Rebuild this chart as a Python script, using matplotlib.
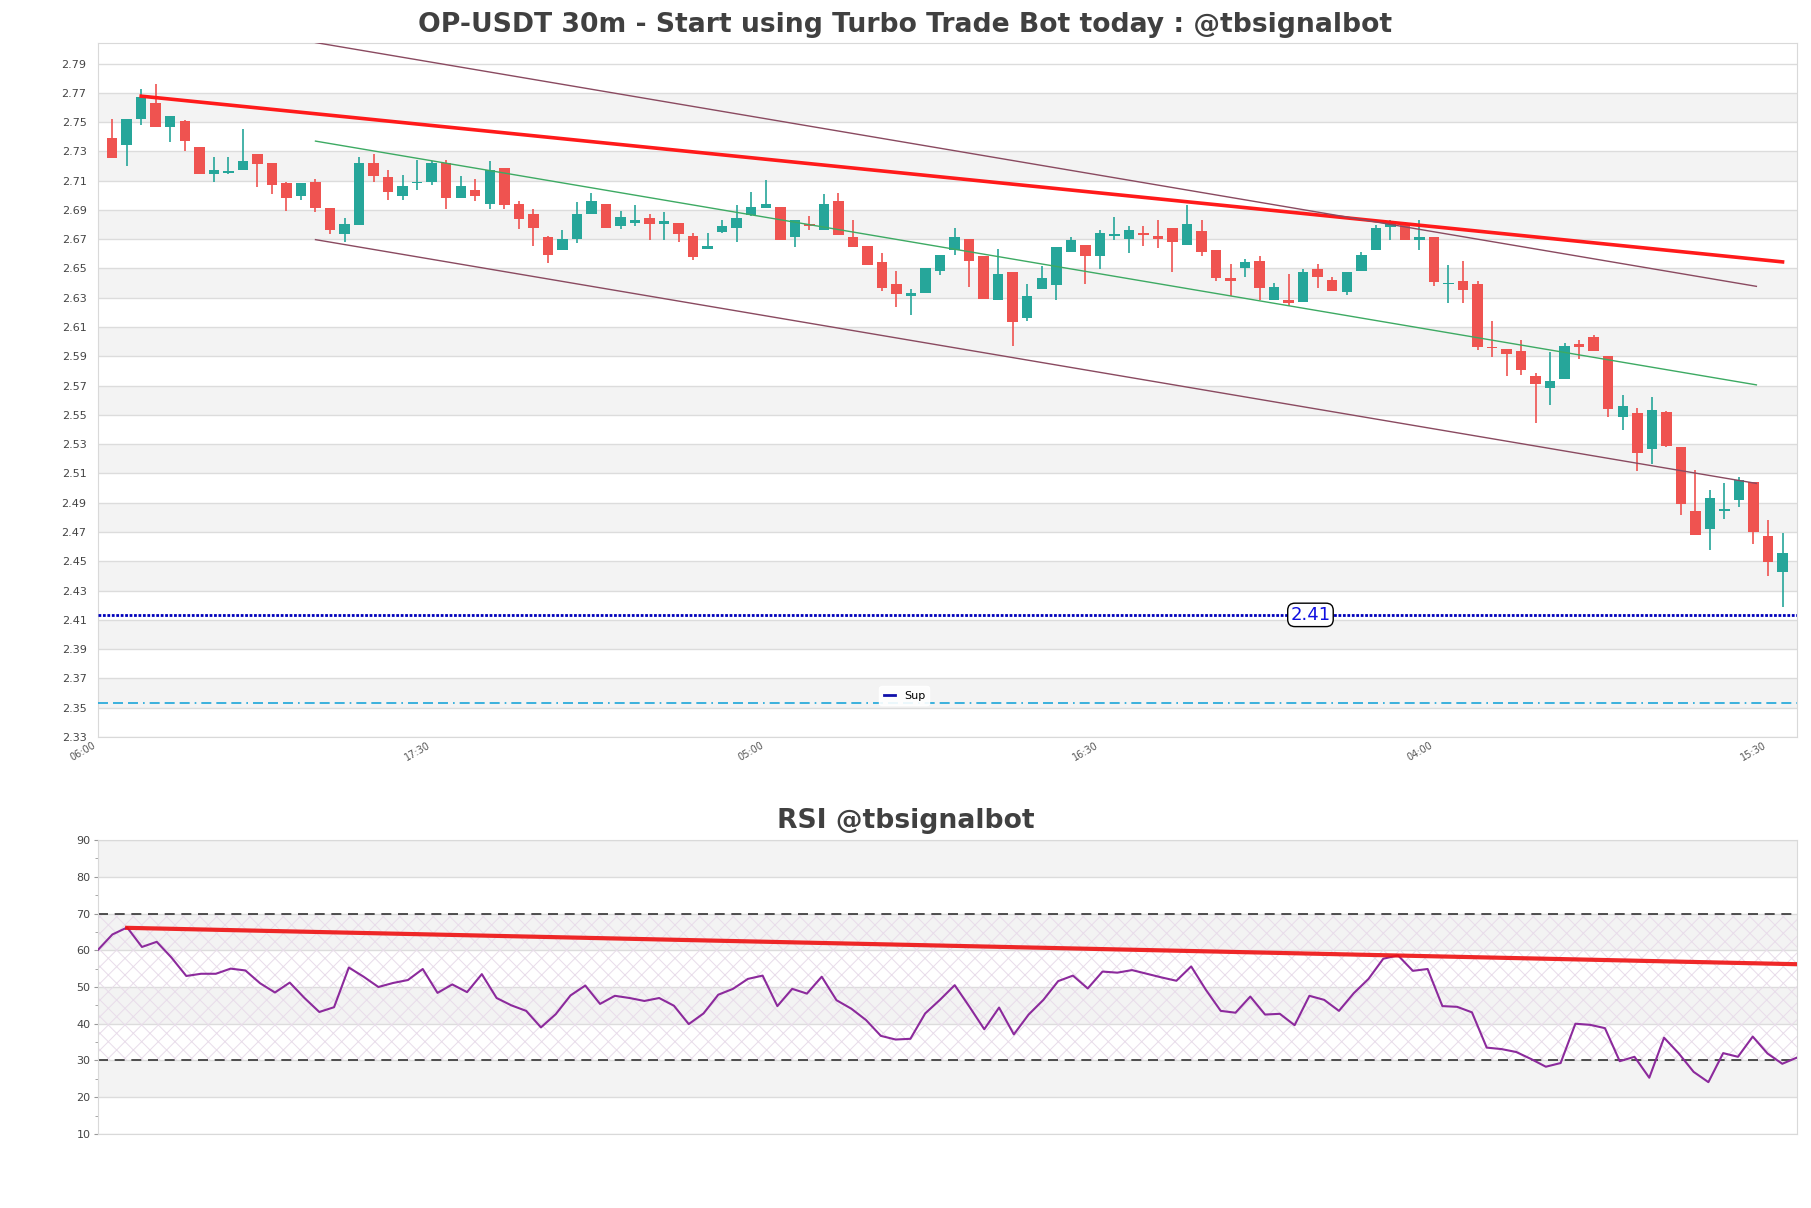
import numpy as np
import matplotlib.pyplot as plt
from matplotlib.lines import Line2D

plt.rcParams['hatch.linewidth'] = 0.7

# ---- candle data (30m OP-USDT) ----
opens = [2.7394, 2.7342, 2.7520, 2.7627, 2.7465, 2.7504, 2.7333, 2.7144, 2.7151, 2.7171,
         2.7285, 2.7223, 2.7087, 2.6993, 2.7094, 2.6916, 2.6738, 2.6800, 2.7223, 2.7128,
         2.6993, 2.7082, 2.7089, 2.7223, 2.6980, 2.7037, 2.6939, 2.7189, 2.6943, 2.6873,
         2.6715, 2.6627, 2.6702, 2.6870, 2.6943, 2.6789, 2.6811, 2.6845, 2.6802, 2.6811,
         2.6725, 2.6631, 2.6752, 2.6779, 2.6868, 2.6916, 2.6923, 2.6713, 2.6807, 2.6761,
         2.6964, 2.6715, 2.6654, 2.6547, 2.6394, 2.6310, 2.6331, 2.6481, 2.6629, 2.6704,
         2.6588, 2.6283, 2.6479, 2.6160, 2.6362, 2.6390, 2.6611, 2.6663, 2.6583, 2.6720,
         2.6702, 2.6743, 2.6722, 2.6777, 2.6659, 2.6759, 2.6629, 2.6435, 2.6501, 2.6554,
         2.6283, 2.6287, 2.6269, 2.6499, 2.6424, 2.6342, 2.6481, 2.6624, 2.6782, 2.6807,
         2.6693, 2.6718, 2.6394, 2.6417, 2.6397, 2.5966, 2.5950, 2.5939, 2.5767, 2.5681,
         2.5747, 2.5984, 2.6032, 2.5905, 2.5489, 2.5515, 2.5269, 2.5517, 2.5282, 2.4843,
         2.4722, 2.4843, 2.4920, 2.5041, 2.4672, 2.4430]
highs = [2.7524, 2.7524, 2.7729, 2.7763, 2.7542, 2.7515, 2.7333, 2.7264, 2.7264, 2.7456,
         2.7285, 2.7223, 2.7091, 2.7087, 2.7112, 2.6916, 2.6848, 2.7264, 2.7285, 2.7176,
         2.7137, 2.7242, 2.7237, 2.7242, 2.7130, 2.7112, 2.7237, 2.7189, 2.6961, 2.6907,
         2.6725, 2.6766, 2.6957, 2.7018, 2.6943, 2.6895, 2.6936, 2.6873, 2.6889, 2.6811,
         2.6743, 2.6743, 2.6832, 2.6936, 2.7021, 2.7105, 2.6923, 2.6834, 2.6857, 2.7010,
         2.7015, 2.6834, 2.6654, 2.6608, 2.6481, 2.6360, 2.6506, 2.6595, 2.6777, 2.6704,
         2.6588, 2.6636, 2.6479, 2.6394, 2.6515, 2.6650, 2.6715, 2.6663, 2.6766, 2.6852,
         2.6793, 2.6788, 2.6834, 2.6777, 2.6936, 2.6834, 2.6629, 2.6531, 2.6567, 2.6588,
         2.6401, 2.6460, 2.6497, 2.6531, 2.6442, 2.6479, 2.6613, 2.6797, 2.6829, 2.6816,
         2.6834, 2.6718, 2.6524, 2.6554, 2.6413, 2.6144, 2.5950, 2.6014, 2.5786, 2.5927,
         2.5991, 2.6014, 2.6048, 2.5905, 2.5638, 2.5546, 2.5622, 2.5528, 2.5282, 2.5125,
         2.4988, 2.5034, 2.5075, 2.5041, 2.4783, 2.4695]
lows = [2.7253, 2.7198, 2.7479, 2.7465, 2.7362, 2.7299, 2.7144, 2.7089, 2.7144, 2.7171,
        2.7055, 2.7010, 2.6891, 2.6971, 2.6886, 2.6734, 2.6679, 2.6800, 2.7089, 2.6971,
        2.6971, 2.7039, 2.7069, 2.6909, 2.6980, 2.6959, 2.6909, 2.6909, 2.6772, 2.6652,
        2.6540, 2.6627, 2.6672, 2.6870, 2.6775, 2.6772, 2.6789, 2.6697, 2.6693, 2.6679,
        2.6561, 2.6631, 2.6743, 2.6679, 2.6857, 2.6911, 2.6697, 2.6649, 2.6761, 2.6761,
        2.6731, 2.6649, 2.6522, 2.6346, 2.6237, 2.6182, 2.6331, 2.6458, 2.6590, 2.6374,
        2.6292, 2.6283, 2.5968, 2.6142, 2.6362, 2.6283, 2.6611, 2.6392, 2.6497, 2.6693,
        2.6606, 2.6652, 2.6640, 2.6474, 2.6659, 2.6583, 2.6413, 2.6310, 2.6440, 2.6287,
        2.6283, 2.6244, 2.6269, 2.6365, 2.6346, 2.6321, 2.6481, 2.6624, 2.6697, 2.6697,
        2.6624, 2.6383, 2.6262, 2.6262, 2.5941, 2.5893, 2.5763, 2.5775, 2.5448, 2.5569,
        2.5747, 2.5884, 2.5934, 2.5489, 2.5398, 2.5114, 2.5166, 2.5280, 2.4813, 2.4683,
        2.4578, 2.4790, 2.4868, 2.4619, 2.4401, 2.4191]
closes = [2.7253, 2.7524, 2.7674, 2.7465, 2.7542, 2.7369, 2.7144, 2.7173, 2.7167, 2.7237,
          2.7212, 2.7069, 2.6980, 2.7087, 2.6911, 2.6761, 2.6807, 2.7223, 2.7130, 2.7021,
          2.7066, 2.7094, 2.7219, 2.6980, 2.7066, 2.6993, 2.7173, 2.6932, 2.6841, 2.6775,
          2.6590, 2.6702, 2.6873, 2.6961, 2.6775, 2.6852, 2.6834, 2.6802, 2.6827, 2.6738,
          2.6581, 2.6654, 2.6791, 2.6845, 2.6923, 2.6941, 2.6697, 2.6834, 2.6789, 2.6943,
          2.6731, 2.6649, 2.6522, 2.6369, 2.6324, 2.6333, 2.6506, 2.6595, 2.6718, 2.6549,
          2.6292, 2.6465, 2.6137, 2.6315, 2.6437, 2.6650, 2.6697, 2.6583, 2.6743, 2.6736,
          2.6766, 2.6731, 2.6702, 2.6679, 2.6804, 2.6611, 2.6433, 2.6413, 2.6545, 2.6365,
          2.6374, 2.6264, 2.6479, 2.6440, 2.6346, 2.6479, 2.6595, 2.6779, 2.6811, 2.6697,
          2.6715, 2.6410, 2.6401, 2.6351, 2.5964, 2.5957, 2.5916, 2.5804, 2.5710, 2.5733,
          2.5973, 2.5964, 2.5934, 2.5542, 2.5562, 2.5243, 2.5535, 2.5289, 2.4890, 2.4683,
          2.4934, 2.4856, 2.5057, 2.4701, 2.4492, 2.4558]

rsi = [60.0, 64.3, 66.2, 60.9, 62.3, 58.0, 53.0, 53.6, 53.6, 55.0,
       54.5, 51.0, 48.5, 51.2, 47.0, 43.2, 44.5, 55.3, 52.8, 50.0,
       51.1, 51.9, 54.9, 48.4, 50.7, 48.6, 53.5, 47.0, 45.0, 43.5,
       39.0, 42.6, 47.7, 50.4, 45.4, 47.6, 47.0, 46.2, 47.0, 44.9,
       39.9, 42.8, 47.9, 49.5, 52.2, 53.1, 44.8, 49.5, 48.2, 52.8,
       46.4, 44.1, 41.0, 36.7, 35.7, 35.9, 42.8, 46.5, 50.5, 44.6,
       38.5, 44.4, 37.1, 42.5, 46.5, 51.6, 53.1, 49.6, 54.2, 53.9,
       54.6, 53.6, 52.6, 51.7, 55.6, 49.2, 43.5, 43.0, 47.4, 42.5,
       42.7, 39.6, 47.6, 46.5, 43.5, 48.3, 52.2, 57.7, 58.6, 54.4,
       54.9, 44.8, 44.6, 43.1, 33.5, 33.1, 32.3, 30.4, 28.3, 29.3,
       40.0, 39.7, 38.8, 29.8, 31.0, 25.3, 36.2, 31.9, 26.9, 24.1,
       32.0, 31.0, 36.5, 31.9, 29.1, 30.8]

time_ticks = [0, 23, 46, 69, 92, 115]
time_labels = ['06:00', '17:30', '05:00', '16:30', '04:00', '15:30']
price_ticks = [2.33, 2.35, 2.37, 2.39, 2.41, 2.43, 2.45, 2.47, 2.49, 2.51, 2.53, 2.55,
               2.57, 2.59, 2.61, 2.63, 2.65, 2.67, 2.69, 2.71, 2.73, 2.75, 2.77, 2.79]
price_labels = ['%.2f' % p for p in price_ticks]
rsi_ticks = [10, 20, 30, 40, 50, 60, 70, 80, 90]

# trend lines / levels
resist_x = [3, 116]
resist_y = [2.7677, 2.6545]
channel_x = [15, 114.2]
channel_mid = [2.7370, 2.5705]
channel_half = 0.0673
sup_level = 2.4134
sup_label_x = 83.5
sup2_level = 2.3533
rsi_trend_x = [2, 115]
rsi_trend_y = [66.1, 56.2]

GREEN = '#26a69a'
RED = '#ef5350'
BAND = '#f3f3f3'
GRID = '#dcdcdc'
TXT = '#444444'

fig = plt.figure(figsize=(18.11, 12.08), dpi=100)
ax = fig.add_axes([0.0539, 0.3899, 0.9384, 0.5745])
ax2 = fig.add_axes([0.0539, 0.0613, 0.9384, 0.2433])

# ---------- price panel ----------
for k in range(1, len(price_ticks) - 1, 2):
    ax.axhspan(price_ticks[k], price_ticks[k + 1], color=BAND, zorder=0, lw=0)
ax.set_yticks(price_ticks)
ax.set_yticklabels(price_labels)
ax.grid(axis='y', color=GRID, lw=1)
ax.set_axisbelow(True)

x = np.arange(1, len(opens) + 1)
o = np.array(opens); h = np.array(highs); l = np.array(lows); c = np.array(closes)
cols = [GREEN if cc >= oo else RED for oo, cc in zip(o, c)]
ax.vlines(x, l, h, colors=cols, lw=1.2, zorder=3)
body = np.maximum(np.abs(c - o), 0.0007)
ax.bar(x, body, bottom=np.minimum(o, c), width=0.72, color=cols, zorder=4, lw=0)

ax.plot(resist_x, resist_y, color='#ff1a1a', lw=2.6, zorder=5)
cm = np.array(channel_mid)
ax.plot(channel_x, cm + channel_half, color='#8a4a60', lw=1, zorder=5)
ax.plot(channel_x, cm - channel_half, color='#8a4a60', lw=1, zorder=5)
ax.plot(channel_x, cm, color='#3daa63', lw=1, zorder=5)

ax.axhline(sup_level, color='#0000bb', lw=2, ls=(0, (1, 0.6)), zorder=5)
ax.axhline(sup2_level, color='#1ca6d9', lw=1.2, ls=(0, (6, 3, 6, 3, 6, 3, 1, 3)), zorder=5)
ax.text(sup_label_x, sup_level, '%.2f' % sup_level, ha='center', va='center',
        fontsize=13, color='#1010e0', zorder=6,
        bbox=dict(boxstyle='round,pad=0.15,rounding_size=0.4', fc='white', ec='black', lw=1))

leg = ax.legend(handles=[Line2D([], [], color='#1010aa', lw=2)], labels=['Sup'],
                loc='lower left', bbox_to_anchor=(0.46, 0.046), borderaxespad=0,
                fontsize=8, handlelength=1, frameon=True, framealpha=0.9)
leg.get_frame().set_edgecolor('white')

ax.set_xlim(0, len(opens) + 1)
ax.set_ylim(2.33, 2.804)
ax.set_xticks(time_ticks)
ax.set_xticklabels(time_labels, rotation=30, ha='right')
ax.tick_params(axis='x', length=0, labelsize=7, labelcolor='#555555', pad=2)
ax.tick_params(axis='y', length=0, labelsize=8, labelcolor=TXT, pad=8)
for s in ax.spines.values():
    s.set_color('#d9d9d9')

# ---------- RSI panel ----------
for lo in [20, 40, 60, 80]:
    ax2.axhspan(lo, lo + 10, color=BAND, zorder=0, lw=0)
ax2.set_yticks(rsi_ticks)
ax2.set_yticks([15, 25, 35, 45, 55, 65, 75, 85], minor=True)
ax2.grid(axis='y', which='major', color=GRID, lw=1)
ax2.set_axisbelow(True)
xr = np.arange(len(rsi))
ax2.fill_between([0, len(rsi) - 1], 30, 70, facecolor='none', edgecolor='#e8dcea',
                 hatch='xx', lw=0, zorder=1)
ax2.axhline(70, color='#333333', lw=1.2, ls=(0, (6, 4)), zorder=2)
ax2.axhline(30, color='#333333', lw=1.2, ls=(0, (6, 4)), zorder=2)
ax2.plot(xr, rsi, color='#8c2a9c', lw=1.5, zorder=4)
ax2.plot(rsi_trend_x, rsi_trend_y, color='#ee1111', lw=3, alpha=0.9, zorder=5)
ax2.set_xlim(0, len(rsi) - 1)
ax2.set_ylim(10, 90)
ax2.set_xticks([])
ax2.tick_params(axis='y', which='major', length=3, color='#999999', labelsize=8,
                labelcolor=TXT, pad=2)
ax2.tick_params(axis='y', which='minor', length=2, color='#999999')
for s in ax2.spines.values():
    s.set_color('#d9d9d9')

fig.text(0.5, 1 - 25.5 / 1208, 'OP-USDT 30m - Start using Turbo Trade Bot today : @tbsignalbot',
         ha='center', va='center', fontsize=19.2, fontweight='bold', color='#404040')
fig.text(0.5, 1 - 821.5 / 1208, 'RSI @tbsignalbot', ha='center', va='center',
         fontsize=19.2, fontweight='bold', color='#404040')

fig.savefig('out.png', dpi=100)
